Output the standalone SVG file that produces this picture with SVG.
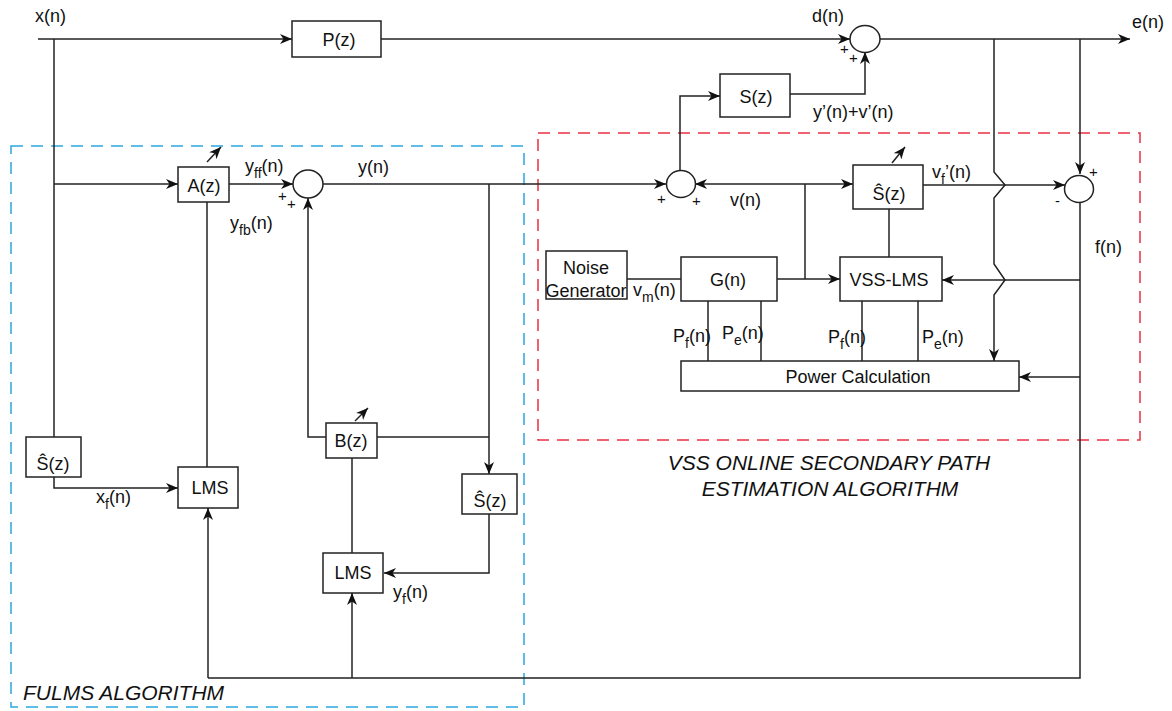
<svg xmlns="http://www.w3.org/2000/svg" width="1172" height="711" viewBox="0 0 1172 711">
<style>
  text { font-family: "Liberation Sans", Arial, sans-serif; fill: #111; }
  .lbl { font-size: 18px; }
  .box { fill: #fff; stroke: #222; stroke-width: 1.5; }
  .sum { fill: #fff; stroke: #222; stroke-width: 1.5; }
  .w { fill: none; stroke: #222; stroke-width: 1.5; }
  .wa { fill: none; stroke: #222; stroke-width: 1.5; marker-end: url(#arr); }
  .mid { text-anchor: middle; }
  .ttl { font-size: 21px; font-style: italic; }
  .pm { font-size: 15px; }
  .sub { font-size: 14px; }
</style>
<defs>
  <marker id="arr" viewBox="0 0 12 10" refX="12" refY="5" markerWidth="12" markerHeight="10" markerUnits="userSpaceOnUse" orient="auto">
    <path d="M0,0 L12,5 L0,10 L3.5,5 z" fill="#111"/>
  </marker>
</defs>
<rect width="1172" height="711" fill="#fff"/>

<!-- dashed regions -->
<g id="regions">
  <rect x="11" y="146" width="513" height="561" fill="none" stroke="#2aa8e0" stroke-width="1.5" stroke-dasharray="12,8"/>
  <rect x="538" y="133" width="602" height="307" fill="none" stroke="#e83040" stroke-width="1.5" stroke-dasharray="12,8"/>
</g>

<!-- connectors -->
<g id="connectors">
  <line class="wa" x1="38" y1="39" x2="292" y2="39"/>
  <line class="w" x1="54" y1="39" x2="54" y2="437"/>
  <line class="wa" x1="54" y1="184" x2="178" y2="184"/>
  <line class="wa" x1="381" y1="39" x2="850" y2="39"/>
  <line class="wa" x1="880" y1="39" x2="1130" y2="39"/>
  <polyline class="wa" points="790,94 865,94 865,52"/>
  <polyline class="wa" points="680,170 680,96 720,96"/>
  <line class="wa" x1="229" y1="184" x2="293" y2="184"/>
  <line class="wa" x1="323" y1="184" x2="666" y2="184"/>
  <line class="wa" x1="489" y1="184" x2="489" y2="474"/>
  <line class="w" x1="377" y1="437" x2="489" y2="437"/>
  <polyline class="wa" points="326,437 308,437 308,198"/>
  <line class="w" x1="207" y1="202" x2="207" y2="467"/>
  <polyline class="wa" points="54,477 54,488 178,488"/>
  <line class="w" x1="352" y1="458" x2="352" y2="553"/>
  <polyline class="wa" points="489,514 489,573 384,573"/>
  <polyline class="w" points="1080,203 1080,678 208,678"/>
  <line class="wa" x1="208" y1="678" x2="208" y2="508"/>
  <line class="wa" x1="352" y1="678" x2="352" y2="593"/>
  <line class="wa" x1="1080" y1="39" x2="1080" y2="174"/>
  <polyline class="wa" points="994,39 994,172 1005,185 994,198 994,264 1005,280 994,295 994,361"/>
  <line class="wa" x1="1080" y1="280" x2="942" y2="280"/>
  <line class="wa" x1="1080" y1="377" x2="1019" y2="377"/>
  <line class="wa" x1="805" y1="184" x2="695" y2="184"/>
  <line class="wa" x1="805" y1="184" x2="853" y2="184"/>
  <line class="w" x1="805" y1="184" x2="805" y2="279"/>
  <line class="wa" x1="923" y1="185" x2="1065" y2="185"/>
  <line class="w" x1="889" y1="209" x2="889" y2="257"/>
  <line class="w" x1="627" y1="279" x2="681" y2="279"/>
  <line class="wa" x1="777" y1="279" x2="840" y2="279"/>
  <line class="w" x1="708" y1="301" x2="708" y2="361"/>
  <line class="w" x1="761" y1="301" x2="761" y2="361"/>
  <line class="w" x1="862" y1="301" x2="862" y2="361"/>
  <line class="w" x1="918" y1="301" x2="918" y2="361"/>
  <line class="wa" x1="207" y1="162" x2="221" y2="147"/>
  <line class="wa" x1="355" y1="421" x2="368" y2="408"/>
  <line class="wa" x1="892" y1="163" x2="905" y2="147"/>
</g>

<!-- nodes -->
<g id="Pz"><rect class="box" x="292" y="21" width="89" height="36"/><text class="lbl mid" x="339" y="46">P(z)</text></g>
<g id="Sz"><rect class="box" x="720" y="74" width="70" height="43"/><text class="lbl mid" x="756" y="103">S(z)</text></g>
<g id="sumTop"><ellipse class="sum" cx="865" cy="39" rx="15" ry="13.5"/></g>
<g id="sumMid"><ellipse class="sum" cx="681" cy="184" rx="14.5" ry="13.5"/></g>
<g id="sum1"><ellipse class="sum" cx="308" cy="184" rx="15" ry="14"/></g>
<g id="sumLow"><ellipse class="sum" cx="1079" cy="189" rx="14.5" ry="13.5"/></g>
<g id="Az"><rect class="box" x="178" y="167" width="51" height="35"/><text class="lbl mid" x="204" y="192">A(z)</text></g>
<g id="Bz"><rect class="box" x="326" y="423" width="51" height="35"/><text class="lbl mid" x="351" y="447">B(z)</text></g>
<g id="Shat1"><rect class="box" x="26" y="437" width="55" height="40"/><text class="lbl mid" x="53" y="470">Ŝ(z)</text></g>
<g id="Shat2"><rect class="box" x="462" y="474" width="55" height="40"/><text class="lbl mid" x="490" y="507">Ŝ(z)</text></g>
<g id="Shat3"><rect class="box" x="853" y="165" width="70" height="44"/><text class="lbl mid" x="889" y="200">Ŝ(z)</text></g>
<g id="LMS1"><rect class="box" x="178" y="467" width="60" height="41"/><text class="lbl mid" x="210" y="494">LMS</text></g>
<g id="LMS2"><rect class="box" x="323" y="553" width="60" height="40"/><text class="lbl mid" x="353" y="579">LMS</text></g>
<g id="Noise"><rect class="box" x="546" y="251" width="81" height="48"/><text class="lbl mid" x="586" y="274">Noise</text><text class="lbl mid" x="586" y="297">Generator</text></g>
<g id="Gn"><rect class="box" x="681" y="257" width="96" height="44"/><text class="lbl mid" x="728" y="286">G(n)</text></g>
<g id="VSSLMS"><rect class="box" x="840" y="257" width="102" height="44"/><text class="lbl mid" x="889" y="286">VSS-LMS</text></g>
<g id="Power"><rect class="box" x="681" y="361" width="338" height="30"/><text class="lbl mid" x="858" y="383">Power Calculation</text></g>

<!-- labels -->
<g id="labels">
  <text class="lbl" x="35" y="22">x(n)</text>
  <text class="lbl" x="812" y="22">d(n)</text>
  <text class="lbl" x="1132" y="28">e(n)</text>
  <text class="lbl" x="813" y="118">y’(n)+v’(n)</text>
  <text class="lbl" x="932" y="178">v<tspan class="sub" dy="6">f</tspan><tspan dy="-6">’(n)</tspan></text>
  <text class="lbl" x="1095" y="253">f(n)</text>
  <text class="lbl" x="730" y="206">v(n)</text>
  <text class="lbl" x="245" y="172">y<tspan class="sub" dy="6">ff</tspan><tspan dy="-6">(n)</tspan></text>
  <text class="lbl" x="358" y="173">y(n)</text>
  <text class="lbl" x="230" y="229">y<tspan class="sub" dy="6">fb</tspan><tspan dy="-6">(n)</tspan></text>
  <text class="lbl" x="633" y="296">v<tspan class="sub" dy="6">m</tspan><tspan dy="-6">(n)</tspan></text>
  <text class="lbl" x="673" y="342">P<tspan class="sub" dy="6">f</tspan><tspan dy="-6">(n)</tspan></text>
  <text class="lbl" x="722" y="339">P<tspan class="sub" dy="6">e</tspan><tspan dy="-6">(n)</tspan></text>
  <text class="lbl" x="828" y="343">P<tspan class="sub" dy="6">f</tspan><tspan dy="-6">(n)</tspan></text>
  <text class="lbl" x="922" y="343">P<tspan class="sub" dy="6">e</tspan><tspan dy="-6">(n)</tspan></text>
  <text class="lbl" x="96" y="503">x<tspan class="sub" dy="6">f</tspan><tspan dy="-6">(n)</tspan></text>
  <text class="lbl" x="393" y="598">y<tspan class="sub" dy="6">f</tspan><tspan dy="-6">(n)</tspan></text>
  <text class="pm" x="840" y="54">+</text>
  <text class="pm" x="849" y="63">+</text>
  <text class="pm" x="278" y="201">+</text>
  <text class="pm" x="287" y="209">+</text>
  <text class="pm" x="657" y="204">+</text>
  <text class="pm" x="692" y="206">+</text>
  <text class="pm" x="1089" y="177">+</text>
  <text class="pm" x="1055" y="206">-</text>
  <text class="ttl" x="23" y="700">FULMS ALGORITHM</text>
  <text class="ttl mid" x="829" y="470">VSS ONLINE SECONDARY PATH</text>
  <text class="ttl mid" x="830" y="496">ESTIMATION ALGORITHM</text>
</g>
</svg>
